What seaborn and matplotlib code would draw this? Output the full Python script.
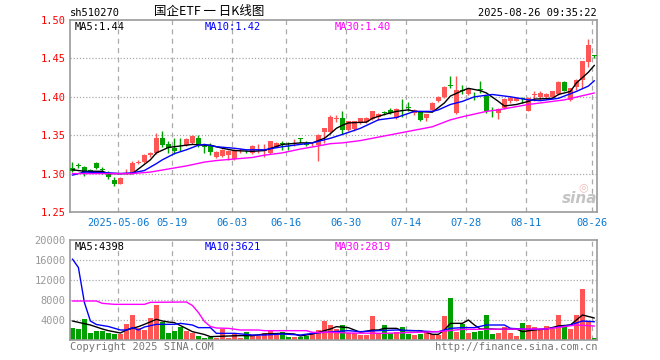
import numpy as np
import pandas as pd
import matplotlib
matplotlib.use("Agg")
import matplotlib.pyplot as plt
import seaborn as sns

# daily candles for sh510270, 88 trading days up to 2025-08-26
opens = [1.307, 1.311, 1.308, 1.305, 1.314, 1.306, 1.300, 1.292, 1.287, 1.303,
         1.301, 1.314, 1.315, 1.324, 1.327, 1.347, 1.339, 1.333, 1.339, 1.337,
         1.340, 1.346, 1.336, 1.337, 1.321, 1.323, 1.324, 1.319, 1.329, 1.330,
         1.327, 1.331, 1.329, 1.327, 1.335, 1.340, 1.339, 1.342, 1.346, 1.340,
         1.338, 1.337, 1.354, 1.354, 1.371, 1.373, 1.357, 1.358, 1.366, 1.367,
         1.371, 1.374, 1.380, 1.383, 1.372, 1.386, 1.387, 1.379, 1.381, 1.372,
         1.383, 1.394, 1.400, 1.415, 1.379, 1.409, 1.404, 1.404, 1.410, 1.401,
         1.382, 1.379, 1.385, 1.394, 1.395, 1.398, 1.382, 1.402, 1.400, 1.400,
         1.400, 1.403, 1.419, 1.396, 1.413, 1.422, 1.445, 1.454]
highs = [1.315, 1.314, 1.310, 1.306, 1.315, 1.308, 1.303, 1.295, 1.295, 1.306,
         1.317, 1.318, 1.325, 1.328, 1.353, 1.355, 1.343, 1.346, 1.347, 1.346,
         1.350, 1.350, 1.339, 1.340, 1.329, 1.332, 1.331, 1.332, 1.333, 1.331,
         1.337, 1.338, 1.338, 1.343, 1.341, 1.342, 1.341, 1.345, 1.347, 1.342,
         1.341, 1.351, 1.360, 1.376, 1.376, 1.381, 1.369, 1.369, 1.373, 1.374,
         1.382, 1.379, 1.381, 1.385, 1.385, 1.397, 1.393, 1.384, 1.382, 1.378,
         1.393, 1.401, 1.414, 1.427, 1.427, 1.415, 1.411, 1.406, 1.420, 1.402,
         1.387, 1.385, 1.398, 1.401, 1.399, 1.400, 1.400, 1.407, 1.408, 1.405,
         1.408, 1.420, 1.420, 1.412, 1.423, 1.447, 1.475, 1.454]
lows = [1.302, 1.307, 1.297, 1.301, 1.306, 1.300, 1.293, 1.284, 1.286, 1.299,
        1.300, 1.312, 1.314, 1.321, 1.326, 1.334, 1.327, 1.326, 1.330, 1.336,
        1.339, 1.335, 1.327, 1.324, 1.320, 1.321, 1.318, 1.318, 1.327, 1.327,
        1.326, 1.327, 1.321, 1.326, 1.334, 1.331, 1.331, 1.336, 1.340, 1.336,
        1.336, 1.316, 1.340, 1.352, 1.367, 1.351, 1.356, 1.356, 1.365, 1.366,
        1.370, 1.370, 1.376, 1.378, 1.371, 1.374, 1.381, 1.376, 1.369, 1.369,
        1.382, 1.393, 1.399, 1.412, 1.378, 1.404, 1.402, 1.396, 1.405, 1.379,
        1.374, 1.371, 1.384, 1.392, 1.394, 1.392, 1.381, 1.394, 1.396, 1.397,
        1.398, 1.402, 1.407, 1.394, 1.409, 1.411, 1.439, 1.451]
closes = [1.304, 1.310, 1.302, 1.303, 1.307, 1.305, 1.295, 1.287, 1.294, 1.304,
          1.314, 1.315, 1.324, 1.327, 1.347, 1.337, 1.333, 1.330, 1.338, 1.345,
          1.349, 1.339, 1.335, 1.328, 1.328, 1.331, 1.330, 1.331, 1.330, 1.329,
          1.336, 1.332, 1.331, 1.342, 1.340, 1.339, 1.338, 1.343, 1.345, 1.337,
          1.339, 1.350, 1.359, 1.374, 1.372, 1.357, 1.368, 1.368, 1.372, 1.373,
          1.381, 1.378, 1.379, 1.379, 1.384, 1.385, 1.386, 1.383, 1.370, 1.377,
          1.392, 1.400, 1.413, 1.414, 1.409, 1.408, 1.410, 1.403, 1.409, 1.381,
          1.381, 1.384, 1.397, 1.398, 1.398, 1.397, 1.399, 1.403, 1.405, 1.403,
          1.407, 1.419, 1.408, 1.411, 1.422, 1.446, 1.467, 1.453]
volumes = [2450, 2200, 4200, 1470, 1870, 1870, 1470, 1200, 1130, 3200,
           5000, 2470, 1930, 4470, 7000, 3670, 1470, 1870, 2670, 1870,
           1470, 870, 470, 670, 500, 2300, 500, 1330, 470, 1670,
           1000, 900, 1330, 2000, 1000, 1670, 530, 670, 600, 870,
           1330, 2000, 3800, 3100, 2200, 3000, 1330, 1330, 1000, 1000,
           4870, 1330, 3000, 1470, 1530, 2600, 1200, 1000, 1200, 1530,
           1200, 1000, 4870, 8470, 1670, 3200, 1470, 1670, 1870, 5000,
           1200, 1470, 2670, 1470, 870, 3470, 3000, 2670, 2000, 2870,
           2130, 5000, 3000, 2130, 5000, 10200, 3800, 330]

tick_idx = [8, 17, 27, 36, 46, 56, 66, 76, 87]
tick_labels = ["2025-05-06", "05-19", "06-03", "06-16", "06-30",
               "07-14", "07-28", "08-11", "08-26"]

# moving averages (candle index, value)
ma5_x = [0, 2, 5, 6, 8, 10, 11, 12, 13, 14, 16, 18, 20, 22, 23, 25, 27, 30, 32, 35,
         38, 40, 42, 43, 44, 45, 46, 49, 50, 52, 54, 56, 57, 60, 62, 63, 65, 66, 68, 69,
         71, 72, 74, 76, 77, 80, 81, 83, 84, 86, 87]
ma5_y = [1.305, 1.303, 1.303, 1.300, 1.300, 1.300, 1.306, 1.312, 1.318, 1.327,
         1.334, 1.336, 1.338, 1.337, 1.337, 1.333, 1.330, 1.329, 1.330, 1.338,
         1.340, 1.340, 1.346, 1.352, 1.359, 1.363, 1.366, 1.367, 1.372, 1.377,
         1.381, 1.383, 1.381, 1.380, 1.392, 1.401, 1.408, 1.411, 1.408, 1.405,
         1.394, 1.388, 1.390, 1.394, 1.397, 1.398, 1.403, 1.407, 1.418, 1.432, 1.441]
ma10_x = [0, 2, 6, 8, 10, 12, 14, 15, 17, 19, 21, 22, 24, 27, 29, 32, 35, 38, 40, 42,
          43, 45, 48, 51, 54, 57, 60, 61, 63, 65, 67, 70, 73, 76, 78, 81, 84, 86, 87]
ma10_y = [1.298, 1.302, 1.301, 1.300, 1.301, 1.304, 1.313, 1.318, 1.326, 1.331,
          1.337, 1.338, 1.335, 1.333, 1.331, 1.331, 1.335, 1.338, 1.340, 1.344,
          1.346, 1.351, 1.359, 1.370, 1.373, 1.381, 1.381, 1.383, 1.390, 1.394,
          1.400, 1.403, 1.400, 1.396, 1.395, 1.398, 1.407, 1.414, 1.421]
ma30_x = [0, 10, 13, 16, 19, 22, 24, 27, 30, 32, 35, 38, 41, 43, 45, 48, 54, 60, 63, 65,
          69, 71, 76, 82, 87]
ma30_y = [1.300, 1.300, 1.302, 1.306, 1.310, 1.315, 1.317, 1.319, 1.321, 1.324,
          1.327, 1.332, 1.336, 1.339, 1.340, 1.343, 1.352, 1.361, 1.370, 1.374,
          1.381, 1.383, 1.390, 1.396, 1.405]

vma5_x = [0, 1, 3, 5, 6, 8, 9, 11, 12, 14, 15, 16, 17, 18, 20, 22, 23, 26, 28, 30,
          32, 35, 37, 38, 40, 42, 43, 44, 46, 47, 48, 50, 51, 52, 54, 55, 58, 60, 61, 62,
          63, 65, 66, 67, 68, 70, 71, 74, 75, 77, 79, 81, 83, 85, 86, 87]
vma5_y = [3800, 3530, 3000, 2200, 1870, 1400, 2000, 2670, 3130, 4130,
          3800, 3600, 3470, 2900, 1670, 1100, 670, 800, 870, 870,
          1200, 1330, 1200, 800, 1200, 1870, 2200, 2670, 2470, 2000,
          1530, 2000, 2000, 2330, 2330, 1870, 1870, 1130, 1130, 2000,
          3330, 3330, 4000, 3000, 2200, 2200, 2130, 2200, 1670, 2000,
          2200, 2800, 3000, 5000, 4700, 4400]
vma10_x = [0, 1, 2, 3, 4, 6, 8, 9, 10, 11, 12, 14, 17, 18, 20, 21, 23, 24, 27, 30,
           32, 35, 38, 40, 42, 46, 48, 51, 54, 57, 60, 61, 63, 65, 67, 69, 72, 73, 76, 79,
           82, 83, 85, 87]
vma10_y = [16200, 14500, 7500, 3800, 3100, 2700, 2000, 2000, 2470, 2000,
           2600, 3130, 3130, 3330, 3000, 2470, 2470, 1330, 1330, 1000,
           1000, 1200, 1000, 1330, 1530, 1870, 1670, 1870, 2000, 1870,
           1670, 1670, 2330, 2470, 2470, 3000, 3000, 2330, 2130, 2200,
           2800, 3000, 3800, 3650]
vma30_x = [0, 4, 5, 7, 12, 13, 19, 20, 21, 22, 23, 24, 26, 28, 31, 32, 39, 40, 43, 46,
           52, 61, 65, 79, 84, 87]
vma30_y = [7800, 7800, 7330, 7130, 7130, 7530, 7600, 6900, 5500, 3700,
           2700, 2400, 2330, 2000, 2000, 1870, 1870, 1530, 1530, 1400,
           1330, 1670, 2130, 2200, 3000, 2800]

RED = "#ff5555"
GREEN = "#00a000"
GRID = "#aaaaaa"

sns.set_theme(style="white")
plt.rcParams["font.family"] = ["DejaVu Sans Mono", "Noto Sans CJK SC"]

df = pd.DataFrame({"open": opens, "high": highs, "low": lows,
                   "close": closes, "volume": volumes})
df["idx"] = np.arange(len(df))
df["color"] = np.where(df["close"] >= df["open"], RED, GREEN)
df["body_lo"] = df[["open", "close"]].min(axis=1)
df["body_h"] = (df["close"] - df["open"]).abs().clip(lower=0.0008)

W, H = 660, 360
fig = plt.figure(figsize=(6.6, 3.6), dpi=100)
fig.patch.set_facecolor("white")
ax = fig.add_axes([70 / W, 1 - 212 / H, 527 / W, 192 / H])
axv = fig.add_axes([70 / W, 1 - 340 / H, 527 / W, 100 / H])

for a in (ax, axv):
    a.set_facecolor("white")
    a.set_xlim(0, 527 / 6)
    for s in a.spines.values():
        s.set_color("#999999")
        s.set_linewidth(1.2)
    a.set_xticks(tick_idx)
    a.tick_params(length=0)
    for t in tick_idx:
        a.axvline(t, color=GRID, lw=0.9, ls=(0, (4, 3.5)), zorder=0)

# candles
ax.vlines(df["idx"] + 0.4, df["low"], df["high"], colors=df["color"], lw=1, zorder=2)
ax.bar(df["idx"], df["body_h"], bottom=df["body_lo"], width=0.8, align="edge",
       color=df["color"], linewidth=0, zorder=3)

for xs, ys, c in [(ma5_x, ma5_y, "black"), (ma10_x, ma10_y, "#0000ff"),
                  (ma30_x, ma30_y, "#ff00ff")]:
    sns.lineplot(x=np.array(xs) + 0.4, y=ys, ax=ax, color=c, lw=1, zorder=4)

ax.set_ylim(1.25, 1.50)
ax.set_yticks([1.25, 1.30, 1.35, 1.40, 1.45, 1.50])
ax.set_yticklabels(["1.25", "1.30", "1.35", "1.40", "1.45", "1.50"],
                   color="#ff0000", fontsize=7.5)
for lv in [1.30, 1.35, 1.40, 1.45]:
    ax.axhline(lv, color=GRID, lw=0.9, ls=(0, (1, 1.5)), zorder=0)
ax.set_xticklabels(tick_labels, color="#0a78d2", fontsize=7.5)
ax.tick_params(axis="x", pad=4)
ax.tick_params(axis="y", pad=3)
ax.set_xlabel("")
ax.set_ylabel("")

# volume
axv.bar(df["idx"], df["volume"], width=0.8, align="edge", color=df["color"],
        linewidth=0, zorder=2)
for xs, ys, c in [(vma5_x, vma5_y, "black"), (vma10_x, vma10_y, "#0000ff"),
                  (vma30_x, vma30_y, "#ff00ff")]:
    sns.lineplot(x=np.array(xs) + 0.4, y=ys, ax=axv, color=c, lw=1, zorder=4)
axv.set_ylim(0, 20000)
axv.set_yticks([4000, 8000, 12000, 16000, 20000])
axv.set_yticklabels(["4000", "8000", "12000", "16000", "20000"],
                    color="#999999", fontsize=7.5)
for lv in [4000, 8000, 12000, 16000]:
    axv.axhline(lv, color=GRID, lw=0.9, ls=(0, (1, 1.5)), zorder=0)
axv.set_xticklabels([])
axv.tick_params(axis="y", pad=3)
axv.set_xlabel("")
axv.set_ylabel("")


def px_text(x, y, s, **kw):
    fig.text(x / W, 1 - y / H, s, va="center", **kw)


px_text(70, 13, "sh510270", fontsize=7.5, color="black")
px_text(209, 12, "国企ETF 一 日K线图", fontsize=9, color="black", ha="center",
        family=["Noto Sans CJK SC", "DejaVu Sans"])
px_text(597, 13, "2025-08-26 09:35:22", fontsize=7.5, color="black", ha="right")

px_text(75, 27, "MA5:1.44", fontsize=7.5, color="black")
px_text(205, 27, "MA10:1.42", fontsize=7.5, color="#0000ff")
px_text(335, 27, "MA30:1.40", fontsize=7.5, color="#ff00ff")
px_text(75, 247, "MA5:4398", fontsize=7.5, color="black")
px_text(205, 247, "MA10:3621", fontsize=7.5, color="#0000ff")
px_text(335, 247, "MA30:2819", fontsize=7.5, color="#ff00ff")

px_text(70, 347, "Copyright 2025 SINA.COM", fontsize=7.5, color="#777777")
px_text(597, 347, "http://finance.sina.com.cn", fontsize=7.5, color="#777777", ha="right")

# faint sina watermark
px_text(583, 187, "◎", fontsize=8, color="#f2b8b8", ha="center",
        family=["DejaVu Sans"])
px_text(580, 198, "sina", fontsize=11, color="#c4c4c4", ha="center",
        fontweight="bold", fontstyle="italic", family=["DejaVu Sans"])

fig.savefig("out.png", dpi=100, facecolor="white")
